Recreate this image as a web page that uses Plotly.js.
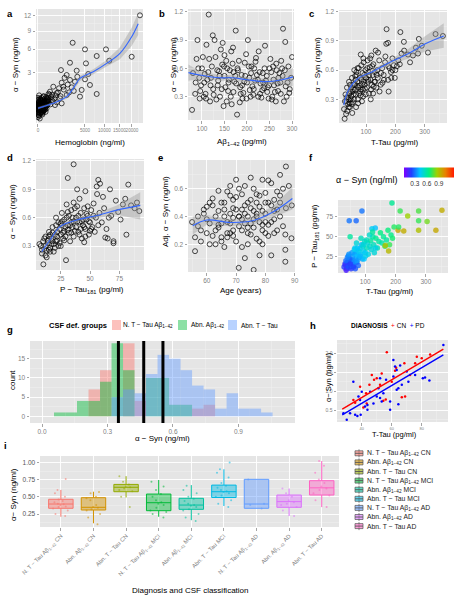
<!DOCTYPE html>
<html><head><meta charset="utf-8">
<script src="https://cdn.plot.ly/plotly-3.0.1.min.js"></script>
<style>html,body{margin:0;padding:0;background:#fff}#chart{width:464px;height:600px}</style>
</head><body><div id="chart"></div>
<script>
// ---------- DATA ----------
// a: Hemoglobin vs alpha-Syn
const hbA = [0,0,0,0,0,0,0,0,0,0, 2,3,5,5,8,10,12,15,18,20, 25,30,35,40,45,50,60,70,80,90,
  100,110,120,130,150,160,180,200,220,250, 5,10,15,25,35,50,65,85,110,140, 3,7,12,22,30,45,60,75,95,125,
  1,4,9,16,28,40,55,170,260,300,
  0,0,0,0,0,0,0,0,0,0, 1,2,4,6,8,11,14,17,21,24, 27,33,38,42,48,52,58,65,72,78, 85,95,105,115,135,145,165,190,210,240,
  23530,19870,10460,11500,7800,7800,6115,5000,5210,2720, 2315,3390,5720,5000,1196,1270,2315,3095,1860,1447,
  2570,530,326,790,4320,3990,1860,1090,425,655, 1270,171,64,400,600,900,1500,700,350,500,
  250,1000,2000,1600,3500,2900,1150,800,450,2200];
const synA = [0.35,0.5,0.2,0.65,0.8,0.42,0.28,0.95,0.15,0.58, 0.3,0.72,0.45,0.6,0.38,0.9,0.25,0.52,0.68,0.4,
  0.33,0.75,0.48,0.62,0.22,0.55,0.85,0.36,0.7,0.5, 0.44,0.9,0.6,0.3,0.78,1.0,0.55,0.65,0.85,0.72,
  0.18,0.27,0.85,0.57,0.31,0.41,0.66,0.52,0.38,0.59, 1.1,0.12,0.47,0.8,0.95,0.26,0.49,1.05,0.63,0.46,
  0.55,0.37,0.61,0.43,0.69,0.76,0.34,0.92,0.82,1.15,
  0.25,0.45,0.6,0.7,0.38,0.55,0.3,0.85,0.48,0.4, 0.2,0.62,0.5,0.34,0.78,0.44,0.58,0.36,0.52,0.66,
  0.42,0.29,0.6,0.5,0.72,0.4,0.3,0.56,0.46,0.62, 0.35,0.55,0.75,0.45,0.5,0.65,0.42,0.8,0.58,0.95,
  12.1,4.93,5.98,4.41,5.03,1.19,1.86,5.98,4.08,7.0, 4.16,3.23,2.88,2.36,3.3,2.05,2.3,2.14,2.78,1.72,
  1.67,1.72,1.35,1.24,1.47,1.02,1.12,0.92,0.83,0.57, 0.65,0.74,1.02,1.0,0.9,1.3,1.5,1.1,0.6,0.75,
  1.2,1.6,1.9,2.5,2.6,1.4,1.05,0.7,1.15,1.3];
const fitAx = [0,64,530,1865,2820,3990,6920,10670,15200,19870,22740];
const fitAy = [0.43,0.50,0.65,1.02,1.6,2.45,3.12,4.08,5.4,8.0,10.4];
const fitAlo = [0.38,0.46,0.60,0.90,1.40,2.20,2.85,3.70,4.6,6.5,8.3];
const fitAhi = [0.48,0.54,0.70,1.15,1.80,2.70,3.40,4.50,6.3,9.6,12.6];

// b: Abeta1-42 vs alpha-Syn
const abB = [80,85,90,95,100,105,110,115,120,125, 130,135,140,145,150,155,160,165,170,175,
  180,185,190,195,200,205,210,215,220,225, 230,235,240,245,250,255,260,265,270,275,
  280,285,290,295,300,78,88,98,108,118, 128,138,148,158,168,178,188,198,208,218,
  228,238,248,258,268,278,288,298,92,102, 112,122,132,142,152,162,172,182,192,202,
  212,222,232,242,252,262,272,282,292,86, 96,106,116,126,136,146,156,166,176,186,
  196,206,216,226,236,246,256,266,276,286, 104,114,124,134,144,154,164,174,184,194,
  204,214,224,234,244,254,264,274,284,294, 94,109,119,139,149,159,169,179,189,199,
  209,219,229,239,249,259,269,279,150,170];
const synB = [0.55,0.33,0.9,0.28,0.6,0.45,0.85,1.17,0.5,0.38, 0.72,0.42,0.3,0.64,0.52,0.25,0.48,0.78,0.35,1.0,
  0.58,0.4,0.28,0.66,0.45,0.5,0.62,0.38,0.71,0.3, 0.44,0.55,0.84,0.35,0.6,0.27,0.42,0.65,0.5,0.33,
  1.02,0.88,0.45,0.38,0.72,0.16,0.7,0.42,0.33,0.25, 0.9,0.57,0.2,0.36,0.65,0.11,0.53,0.75,0.3,0.47,
  0.56,0.39,0.28,0.62,0.44,0.6,0.3,0.5,0.6,0.72, 0.48,0.62,0.27,0.8,0.4,0.58,0.46,0.68,0.34,0.9,
  0.41,0.53,0.29,0.47,0.7,0.35,0.55,0.25,0.62,0.45, 0.36,0.54,0.7,0.32,0.47,0.87,0.6,0.22,0.44,0.33,
  0.52,0.37,0.6,0.78,0.45,0.4,0.3,0.58,0.68,0.41, 0.3,0.56,0.95,0.58,0.38,0.68,0.3,0.52,0.24,0.46,
  0.62,0.32,0.48,0.37,0.52,0.56,0.25,0.45,0.58,0.34, 0.5,0.28,0.42,0.52,0.62,0.45,0.82,0.6,0.42,0.28,
  0.55,0.67,0.33,0.6,0.42,0.48,0.36,0.52,0.74,0.56];
const fitBx = [70,95,140,167,200,240,278,302];
const fitBy = [0.555,0.53,0.50,0.50,0.48,0.46,0.48,0.51];
const fitBlo = [0.47,0.49,0.47,0.47,0.45,0.43,0.43,0.41];
const fitBhi = [0.64,0.57,0.53,0.53,0.51,0.49,0.53,0.61];

// c: T-Tau vs alpha-Syn
const tauC = [25,28,30,32,35,38,40,42,45,48, 50,52,55,58,60,62,65,68,70,72, 75,78,80,82,85,88,90,92,95,98,
  100,103,105,108,110,113,115,118,120,123, 125,128,130,133,135,138,140,145,150,155,
  160,165,170,175,180,185,190,195,200,210, 217,229,243,221,277,280,311,337,362,169,
  27,53,177,161,34,44,56,66,76,86, 96,106,116,126,136,146,156,166,176,186,
  36,46,54,64,74,84,94,104,114,124, 39,41,47,51,57,61,67,71,79,83,
  87,91,99,107,111,117,121,131,141,151, 198,205,215,230,250,260,270,290,175,190,
  33,43,49,59,63,69,73,81,89,93];
const synC = [0.2,0.28,0.35,0.15,0.42,0.25,0.3,0.48,0.22,0.38, 0.33,0.52,0.27,0.45,0.6,0.4,0.35,0.55,0.48,0.3,
  0.62,0.44,0.38,0.76,0.5,0.57,0.33,0.68,0.45,0.6, 0.52,0.42,0.7,0.58,0.36,0.63,0.5,0.75,0.45,0.55,
  0.66,0.48,0.58,0.8,0.42,0.6,0.52,0.7,0.45,0.62, 0.55,0.68,1.02,0.5,0.62,0.58,0.72,0.65,0.6,0.7,
  0.99,0.89,0.76,0.77,0.77,0.92,0.78,0.97,0.95,0.87, 0.1,0.16,0.38,0.5,0.32,0.26,0.4,0.22,0.36,0.28,
  0.41,0.48,0.3,0.43,0.55,0.38,0.47,0.74,0.64,0.52, 0.18,0.45,0.38,0.5,0.42,0.65,0.55,0.62,0.72,0.36,
  0.32,0.22,0.3,0.25,0.35,0.46,0.58,0.62,0.52,0.4, 0.46,0.72,0.35,0.5,0.55,0.4,0.64,0.48,0.78,0.57,
  0.52,0.64,0.66,0.8,0.68,0.75,0.83,0.85,0.88,0.6, 0.28,0.36,0.42,0.3,0.54,0.44,0.26,0.34,0.4,0.48];
const fitCx = [24,41,75,120,188,245,302,365];
const fitCy = [0.24,0.40,0.52,0.58,0.69,0.77,0.87,0.95];
const fitClo = [0.17,0.36,0.50,0.56,0.66,0.72,0.79,0.83];
const fitChi = [0.31,0.44,0.54,0.60,0.72,0.82,0.95,1.08];

// d: P-Tau181 vs alpha-Syn
const ptauD = [8,9,10,11,12,13,14,15,16,17, 18,19,20,21,22,23,24,25,26,27, 28,29,30,31,32,33,34,35,36,37,
  38,39,40,41,42,43,44,45,46,47, 48,49,50,51,52,53,54,55,56,57, 58,60,62,64,66,68,70,72,74,76,
  36,31,39,57,58.5,55.7,82.6,92,81,70, 63,29.5,10.2,6.8,78,80,85,88,90,65,
  12,14,16,18,20,22,24,26,28,30, 32,34,36,38,40,42,44,46,48,50, 13,15,17,19,21,23,25,27,29,31,
  33,35,37,41,43,45,47,49,51,53, 11,16,21,26,31,36,41,46,61,67, 9,12,15,18,22,25,28,34,39,45];
const synD = [0.3,0.22,0.35,0.27,0.4,0.25,0.33,0.45,0.28,0.38, 0.5,0.32,0.42,0.6,0.36,0.55,0.48,0.3,0.65,0.44,
  0.58,0.4,0.74,0.52,0.62,0.35,0.68,0.5,0.56,0.46, 0.6,0.72,0.45,0.55,0.65,0.38,0.52,0.7,0.48,0.58,
  0.62,0.42,0.55,0.68,0.5,0.75,0.45,0.6,0.85,0.52, 0.65,0.55,0.7,0.48,0.6,0.62,0.35,0.78,0.66,0.58,
  1.165,1.02,0.9,1.0,0.96,0.93,0.95,0.67,0.42,0.33, 0.39,0.15,0.106,0.32,0.74,0.8,0.73,0.7,0.76,0.38,
  0.2,0.36,0.24,0.44,0.28,0.4,0.33,0.52,0.46,0.6, 0.44,0.55,0.4,0.5,0.62,0.48,0.58,0.4,0.72,0.46,
  0.18,0.26,0.32,0.24,0.35,0.3,0.42,0.38,0.5,0.66, 0.52,0.6,0.7,0.42,0.56,0.5,0.64,0.56,0.48,0.62,
  0.38,0.42,0.52,0.56,0.47,0.76,0.8,0.88,0.82,0.9, 0.26,0.3,0.4,0.35,0.45,0.54,0.36,0.44,0.56,0.34];
const fitDx = [8.8,16,24.4,38.6,58.5,72.8,92.8];
const fitDy = [0.24,0.366,0.505,0.575,0.63,0.68,0.73];
const fitDlo = [0.20,0.34,0.48,0.55,0.60,0.63,0.58];
const fitDhi = [0.28,0.39,0.53,0.60,0.66,0.73,0.87];

// e: Age vs adjusted alpha-Syn
const ageE = [55,56,57,58,59,60,61,62,63,64, 65,66,67,68,69,70,71,72,73,74, 75,76,77,78,79,80,81,82,83,84,
  85,86,87,88,89,70.9,86.8,86.8,86.8,88.9, 58,60,62,64,66,68,70,72,74,76, 59,61,63,65,67,69,71,73,75,77,
  78,79,80,81,82,83,84,85,86,87, 62,64,66,68,70,72,74,76,78,80, 63,65,67,69,71,73,75,77,79,81,
  66,68,70,72,74,76,78,80,82,84, 67,69,71,73,75,77,79,81,83,85, 56,57,60,61,64,65,68,69,72,73,
  74,75,76,77,78,79,80,82,83,85];
const synE = [0.36,0.15,0.33,0.22,0.42,0.28,0.5,0.53,0.2,0.585, 0.35,0.45,0.25,0.55,0.3,0.665,0.4,0.18,0.48,0.32,
  0.68,0.015,0.42,0.36,0.665,0.28,0.5,0.64,0.38,0.45, 0.55,0.33,0.76,0.62,0.48,0.03,0.074,0.16,0.27,0.243,
  0.3,0.38,0.26,0.44,0.5,0.35,0.22,0.56,0.4,0.6, 0.45,0.2,0.4,0.25,0.58,0.46,0.33,0.62,0.27,0.5,
  0.22,0.44,0.57,0.34,0.12,0.52,0.3,0.4,0.6,0.46, 0.48,0.34,0.18,0.42,0.54,0.3,0.5,0.38,0.55,0.42,
  0.3,0.5,0.36,0.26,0.6,0.42,0.35,0.24,0.3,0.66, 0.4,0.62,0.45,0.38,0.2,0.32,0.12,0.5,0.36,0.58,
  0.28,0.52,0.4,0.1,0.46,0.4,0.34,0.26,0.44,0.7, 0.25,0.4,0.47,0.35,0.32,0.22,0.28,0.39,0.45,0.35,
  0.28,0.52,0.44,0.56,0.47,0.2,0.36,0.48,0.28,0.5];
const fitEx = [55.2,60,68,75.6,82.4,89.2];
const fitEy = [0.334,0.375,0.357,0.369,0.43,0.53];
const fitElo = [0.27,0.34,0.33,0.34,0.39,0.45];
const fitEhi = [0.40,0.41,0.38,0.40,0.47,0.61];

// f: T-Tau vs P-Tau181 coloured by alpha-Syn
const tauF = [30,35,38,40,42,45,48,50,52,55, 58,60,62,65,68,70,72,75,78,80, 82,85,88,90,92,95,98,100,105,108,
  110,115,118,120,125,128,130,135,140,145, 150,155,160,165,170,175,180,185,190,195,
  188,89,47,70,215,240,276,353,304,276, 227,208,276,333,133,50,166,177,210,122,
  33,37,43,47,53,57,63,67,73,77, 44,56,64,74,84,94,104,114,124,134, 36,41,46,51,61,66,71,86,96,101];
const ptauF = [12,15,10,18,14,20,16,12,22,18, 25,20,14,28,22,30,18,26,32,24, 35,28,40,22,38,32,44,30,36,42,
  28,38,45,34,50,40,30,48,36,44, 55,42,50,38,46,58,40,52,48,62,
  92,82,70,70,82,76,82,83,69,70, 57,58,58,58,61,50,39,32,62,60,
  16,8,12,22,10,14,18,10,20,14, 26,30,34,36,26,40,46,52,56,36, 20,24,28,16,12,36,42,48,22,26];
const synF = [0.2,0.15,0.22,0.25,0.18,0.28,0.22,0.25,0.3,0.27, 0.35,0.3,0.22,0.4,0.35,0.38,0.3,0.42,0.45,0.38,
  0.48,0.45,0.4,0.38,0.5,0.46,0.52,0.44,0.55,0.5, 0.48,0.52,0.6,0.5,0.58,0.55,0.5,0.62,0.56,0.6,
  0.65,0.58,0.62,0.7,0.6,0.66,0.72,0.64,0.68,0.7, 0.62,0.3,0.3,0.28,0.72,0.85,0.75,0.95,0.8,0.72,
  0.95,0.98,0.9,0.96,0.42,0.6,0.9,0.92,0.7,0.45, 0.18,0.12,0.24,0.26,0.2,0.3,0.33,0.25,0.36,0.28,
  0.32,0.36,0.45,0.42,0.4,0.5,0.55,0.52,0.6,0.48, 0.28,0.32,0.35,0.2,0.22,0.45,0.5,0.55,0.42,0.46];

// g: histogram counts per CSF group (bins of width binW starting at binStart)
const binStart = 0.055, binW = 0.0527;
const groupNames = ['N. T − Tau Aβ<sub>1−42</sub>', 'Abn. Aβ<sub>1−42</sub>', 'Abn. T − Tau'];
const cntNormal = [0,0,0,7,12,0,19,4,0,0,0,0,2,3,0,0,0,0,0];
const cntAbnAb  = [1,1,4,4,9,19,12,0,10,10,3,3,0,0,0,0,0,0,0];
const cntAbnTau = [0,0,0,0,0,5,7,6,11,16,15,12,8,7,2,6,2,2,1];
const cutoffs = [0.35, 0.466, 0.554];

// h: T-Tau vs alpha-Syn by diagnosis
const tauHcn = [56.7,76.7,75.6,62.9,62.2,68.4,53.3,50,48.2,45.1,42.9,43.3,38.9,34.4,35.6,41.1,66.7,54.4,56,68.9,60,72.2,80,85.6,46.7,52.2];
const synHcn = [2.03,1.91,1.74,1.62,1.54,1.74,1.47,1.34,1.30,1.17,0.95,0.68,1.12,0.77,0.70,0.57,0.84,0.75,0.78,0.86,1.25,1.43,1.87,1.97,1.43,1.17];
const tauHpd = [94.4,85.1,82.2,61.1,62.2,65.6,63.3,66.7,64.4,63.3,61.1,56.2,52.2,51.1,50,52.2,53.3,47.8,43.8,42.2,37.8,38.9,40,34.4,32.2,30,27.8,35.6,37.1,39.3,58.9,58.9,64.4,71.1,75.6,54.4,45.6,80.7,70,43.8];
const synHpd = [2.22,1.28,1.36,1.82,1.65,1.68,1.56,1.17,1.08,1.04,1.39,1.30,1.34,1.08,0.86,0.82,0.73,0.68,0.64,0.60,0.86,0.77,0.99,1.25,0.42,0.25,0.42,0.38,0.35,0.38,0.51,0.73,0.66,1.25,1.43,0.95,0.99,1.34,1.52,0.51];
const fitHx = [27, 94.4];
const fitHcn = [0.53, 2.11];
const fitHpd = [0.38, 1.96];

// i: box plots by diagnosis and CSF class
const boxLabels = ['N. T − Tau Aβ<sub>1−42</sub> CN','Abn. Aβ<sub>1−42</sub> CN','Abn. T − Tau CN',
  'N. T − Tau Aβ<sub>1−42</sub> MCI','Abn. Aβ<sub>1−42</sub> MCI','Abn. T − Tau MCI',
  'N. T − Tau Aβ<sub>1−42</sub> AD','Abn. Aβ<sub>1−42</sub> AD','Abn. T − Tau AD'];
const boxQ1  = [0.333,0.308,0.574,0.298,0.318,0.49,0.333,0.347,0.526];
const boxMed = [0.395,0.347,0.638,0.414,0.38,0.574,0.395,0.43,0.63];
const boxQ3  = [0.464,0.487,0.68,0.54,0.478,0.67,0.754,0.526,0.734];
const boxLo  = [0.21,0.115,0.49,0.21,0.16,0.366,0.333,0.22,0.35];
const boxHi  = [0.60,0.574,0.80,0.744,0.67,0.90,0.754,0.62,1.02];
const boxPts = [
  [0.22,0.25,0.3,0.33,0.35,0.36,0.38,0.39,0.4,0.42,0.44,0.46,0.5,0.55,0.6,0.76],
  [0.1,0.2,0.25,0.3,0.32,0.34,0.35,0.38,0.45,0.48,0.5,0.55,0.57],
  [0.35,0.5,0.58,0.6,0.62,0.64,0.65,0.68,0.72,0.8],
  [0.2,0.25,0.28,0.3,0.34,0.38,0.4,0.42,0.45,0.5,0.54,0.6,0.65,0.72],
  [0.15,0.2,0.25,0.3,0.32,0.35,0.37,0.38,0.4,0.44,0.47,0.5,0.55,0.6,0.66],
  [0.35,0.4,0.45,0.5,0.52,0.55,0.57,0.58,0.6,0.63,0.66,0.7,0.78,0.85,0.9,1.0],
  [0.33,0.38,0.4,0.75],
  [0.22,0.3,0.35,0.38,0.4,0.42,0.45,0.5,0.55,0.62],
  [0.35,0.45,0.52,0.55,0.6,0.62,0.65,0.7,0.75,0.85,0.95,1.02]];

// ---------- STYLE ----------
const F = 'Liberation Sans, Arial, sans-serif';
const W = 464, H = 600;
const PX = v => v / W, PY = v => 1 - v / H;
const hues = ['#F8766D','#D39200','#93AA00','#00BA38','#00C19F','#00B9E3','#619CFF','#DB72FB','#FF61C3'];
function rgba(hex, a){const n=parseInt(hex.slice(1),16);return `rgba(${n>>16},${(n>>8)&255},${n&255},${a})`;}
const sq = arr => arr.map(Math.sqrt);

function mids(tv){
  const m=[];
  m.push(tv[0]-(tv[1]-tv[0])/2);
  for(let i=0;i<tv.length-1;i++) m.push((tv[i]+tv[i+1])/2);
  m.push(tv[tv.length-1]+(tv[tv.length-1]-tv[tv.length-2])/2);
  return m;
}
function axis(dom, rng, tv, tt, anchor, extra){
  const a = {domain:dom, range:rng, anchor:anchor, tickmode:'array', tickvals:tv, ticktext:tt||tv.map(String),
    showgrid:true, gridcolor:'#FFFFFF', gridwidth:0.9, zeroline:false, showline:false,
    ticks:'outside', ticklen:2.5, tickwidth:0.7, tickcolor:'#7F7F7F', tickangle:0,
    tickfont:{family:F,size:6.5,color:'#7F7F7F'}, fixedrange:true,
    minor:{tickmode:'array', tickvals:mids(tv), showgrid:true, gridcolor:'#F2F2F2', gridwidth:0.5, ticks:''}};
  return Object.assign(a, extra||{});
}
function pts(x,y,xa,ya){return {type:'scatter',mode:'markers',x:x,y:y,xaxis:xa,yaxis:ya,hoverinfo:'skip',showlegend:false,
  marker:{symbol:'circle-open',size:5,color:'#000',line:{width:0.7,color:'#000'}}};}
function ribbon(x,lo,hi,xa,ya){return {type:'scatter',mode:'lines',x:x.concat(x.slice().reverse()),y:hi.concat(lo.slice().reverse()),
  fill:'toself',fillcolor:'rgba(150,150,150,0.4)',line:{width:0},xaxis:xa,yaxis:ya,hoverinfo:'skip',showlegend:false};}
function fit(x,y,xa,ya,col,w){return {type:'scatter',mode:'lines',x:x,y:y,xaxis:xa,yaxis:ya,hoverinfo:'skip',showlegend:false,
  line:{color:col||'#3366FF',width:w||1.1,shape:'spline'}};}

const traces = [];
// a
traces.push(pts(sq(hbA),sq(synA),'x','y'));
traces.push(ribbon(sq(fitAx),sq(fitAlo),sq(fitAhi),'x','y'));
traces.push(fit(sq(fitAx),sq(fitAy),'x','y'));
// b
traces.push(pts(abB,synB,'x2','y2'));
traces.push(ribbon(fitBx,fitBlo,fitBhi,'x2','y2'));
traces.push(fit(fitBx,fitBy,'x2','y2'));
// c
traces.push(pts(tauC,synC,'x3','y3'));
traces.push(ribbon(fitCx,fitClo,fitChi,'x3','y3'));
traces.push(fit(fitCx,fitCy,'x3','y3'));
// d
traces.push(pts(ptauD,synD,'x4','y4'));
traces.push(ribbon(fitDx,fitDlo,fitDhi,'x4','y4'));
traces.push(fit(fitDx,fitDy,'x4','y4'));
// e
traces.push(pts(ageE,synE,'x5','y5'));
traces.push(ribbon(fitEx,fitElo,fitEhi,'x5','y5'));
traces.push(fit(fitEx,fitEy,'x5','y5'));
// f
traces.push({type:'scatter',mode:'markers',x:tauF,y:ptauF,xaxis:'x6',yaxis:'y6',hoverinfo:'skip',showlegend:false,
  marker:{size:5.5,opacity:0.8,color:synF,cmin:0.03,cmax:1.28,
    colorscale:[[0,'#7F00FF'],[0.15,'#2040FF'],[0.32,'#00C8FF'],[0.5,'#00F080'],[0.66,'#A0D000'],[0.83,'#E88000'],[1,'#FF1A00']],
    colorbar:{orientation:'h',x:PX(429),xanchor:'center',y:PY(176),yanchor:'middle',len:50,lenmode:'pixels',
      thickness:10,thicknessmode:'pixels',tickvals:[0.3,0.6,0.9],ticktext:['0.3','0.6','0.9'],ticks:'',
      tickfont:{family:F,size:6.5,color:'#333'},outlinewidth:0,xpad:0,ypad:0}}});
// g
const binCenters = cntNormal.map((_,i)=>binStart+binW*(i+0.5));
[cntNormal,cntAbnAb,cntAbnTau].forEach((c,k)=>{
  traces.push({type:'bar',x:binCenters,y:c,width:binW,xaxis:'x7',yaxis:'y7',hoverinfo:'skip',showlegend:false,
    marker:{color:[hues[0],hues[3],hues[6]][k],opacity:0.45,line:{width:0}}});
});
// h
traces.push({type:'scatter',mode:'markers',x:tauHcn,y:synHcn,xaxis:'x8',yaxis:'y8',hoverinfo:'skip',showlegend:false,
  marker:{size:2.5,color:'#FF0000'}});
traces.push({type:'scatter',mode:'markers',x:tauHpd,y:synHpd,xaxis:'x8',yaxis:'y8',hoverinfo:'skip',showlegend:false,
  marker:{size:2.5,color:'#0000FF'}});
traces.push(fit(fitHx,fitHcn,'x8','y8','#FF0000',1.4));
traces.push(fit(fitHx,fitHpd,'x8','y8','#0000FF',1.4));
// i
boxLabels.forEach((lab,i)=>{
  traces.push({type:'box',x:[i],q1:[boxQ1[i]],median:[boxMed[i]],q3:[boxQ3[i]],lowerfence:[boxLo[i]],upperfence:[boxHi[i]],
    xaxis:'x9',yaxis:'y9',width:0.75,whiskerwidth:0,boxpoints:false,fillcolor:rgba(hues[i],0.45),
    line:{color:hues[i],width:1},hoverinfo:'skip',showlegend:false});
});
boxLabels.forEach((lab,i)=>{
  traces.push({type:'box',x:boxPts[i].map(()=>i),y:boxPts[i],xaxis:'x9',yaxis:'y9',width:0.75,boxpoints:'all',jitter:0.8,pointpos:0,
    fillcolor:'rgba(0,0,0,0)',line:{width:0,color:'rgba(0,0,0,0)'},marker:{size:2,color:rgba(hues[i],0.55)},hoverinfo:'skip',showlegend:false});
});

// ---------- LAYOUT ----------
const layout = {
  width:W,height:H,autosize:false,margin:{l:0,r:0,t:0,b:0},paper_bgcolor:'#FFFFFF',plot_bgcolor:'#E5E5E5',
  font:{family:F,color:'#000'},showlegend:false,barmode:'overlay',boxmode:'overlay',
  xaxis: axis([PX(36),PX(143)],[-3,158],sq([0,5000,10000,15000,20000]),['0','5000','10000','15000','20000'],'y',{tickfont:{family:F,size:4.6,color:'#7F7F7F'}}),
  yaxis: axis([PY(123),PY(9)],[0.21,3.67],sq([3,6,9,12]),['3','6','9','12'],'x'),
  xaxis2: axis([PX(188),PX(294)],[69,304.4],[100,150,200,250,300],null,'y2'),
  yaxis2: axis([PY(120),PY(9)],[0.053,1.229],[0.3,0.6,0.9,1.2],null,'x2'),
  xaxis3: axis([PX(339),PX(447)],[7.8,376],[100,200,300],null,'y3'),
  yaxis3: axis([PY(123),PY(10)],[0.057,1.217],[0.3,0.6,0.9,1.2],null,'x3'),
  xaxis4: axis([PX(36),PX(144)],[3.9,96],[25,50,75],null,'y4'),
  yaxis4: axis([PY(270),PY(159)],[0.046,1.221],[0.3,0.6,0.9,1.2],null,'x4'),
  xaxis5: axis([PX(188),PX(295)],[53.6,90.1],[60,70,80,90],null,'y5'),
  yaxis5: axis([PY(272),PY(160)],[0,0.807],[0.2,0.4,0.6],null,'x5'),
  xaxis6: axis([PX(338),PX(448)],[10,373],[100,200,300],null,'y6'),
  yaxis6: axis([PY(273),PY(200)],[4.6,95.9],[25,50,75],null,'x6'),
  xaxis7: axis([PX(30),PX(295)],[-0.055,1.159],[0,0.3,0.6,0.9],['0.0','0.3','0.6','0.9'],'y7'),
  yaxis7: axis([PY(423),PY(341)],[-1.74,19.6],[0,5,10,15],null,'x7'),
  xaxis8: axis([PX(337),PX(448)],[23.5,97.5],[40,60,80],null,'y8',{tickfont:{family:F,size:4,color:'#7F7F7F'}}),
  yaxis8: axis([PY(422),PY(340)],[0.19,2.35],[0.5,1,1.5,2],['0.5','1.0','1.5','2.0'],'x8',{tickfont:{family:F,size:5,color:'#7F7F7F'}}),
  xaxis9: axis([PX(40),PX(339)],[-0.64,8.53],[0,1,2,3,4,5,6,7,8],boxLabels,'y9',
    {tickangle:-45,tickfont:{family:F,size:5.8,color:'#7F7F7F'},minor:{showgrid:false}}),
  yaxis9: axis([PY(527),PY(456)],[0.061,1.093],[0.25,0.5,0.75,1.0],['0.25','0.50','0.75','1.00'],'x9',{tickfont:{family:F,size:6.5,color:'#555'}}),
  shapes:[], annotations:[]
};

// cutoff lines in g
cutoffs.forEach(c=>layout.shapes.push({type:'line',xref:'x7',yref:'y7 domain',x0:c,x1:c,y0:0,y1:1,line:{color:'#000',width:3}}));

function ann(text,x,y,o){layout.annotations.push(Object.assign({text:text,x:PX(x),y:PY(y),xref:'paper',yref:'paper',showarrow:false,
  xanchor:'center',yanchor:'middle',borderpad:0,font:{family:F,size:8,color:'#000'}},o||{}));}
const rot={textangle:-90};
const syn='α − Syn (ng/ml)';
// panel letters
[['a',10,13],['b',162,13],['c',311,13],['d',10,158],['e',160,158],['f',311,157],['g',10,329],['h',313,325],['i',5,445]]
  .forEach(l=>ann('<b>'+l[0]+'</b>',l[1],l[2],{font:{family:F,size:9.5,color:'#000'}}));
// axis titles
ann(syn,15,65,rot); ann('Hemoglobin (ng/ml)',90,142);
ann(syn,173,65,rot); ann('Aβ<sub>1−42</sub> (pg/ml)',242,142);
ann(syn,317,65,rot); ann('T-Tau (pg/ml)',394,142);
ann(syn,13,212,rot); ann('P − Tau<sub>181</sub> (pg/ml)',92,290);
ann('Adj. α − Syn (ng/ml)',166,212,rot); ann('Age (years)',241,290);
ann('P − Tau<sub>181</sub> (pg/ml)',315,236,rot); ann('T-Tau (pg/ml)',389,291);
ann('count',12,380,rot); ann(syn,162,438);
ann('α− Syn (ng/ml)',328,377,{textangle:-90,font:{family:F,size:7.5,color:'#000'}}); ann('T-Tau (pg/ml)',394,434,{font:{family:F,size:7.5,color:'#000'}});
ann('α− Syn (ng/ml)',13,495,rot); ann('Diagnosis and CSF classification',190,590);
// colorbar title f
ann(syn,366,180,{font:{family:F,size:9,color:'#000'}});
// legend g
ann('<b>CSF def. groups</b>',48,325,{xanchor:'left',font:{family:F,size:7.5,color:'#000'}});
const gLeg=[[112,122],[178,190],[228,240]];
gLeg.forEach((p,k)=>{
  layout.shapes.push({type:'rect',xref:'paper',yref:'paper',x0:PX(p[0]),x1:PX(p[0]+9),y0:PY(330),y1:PY(320),
    fillcolor:rgba([hues[0],hues[3],hues[6]][k],0.45),line:{width:0}});
  ann(groupNames[k],p[1],325,{xanchor:'left',font:{family:F,size:6.5,color:'#000'}});
});
// legend h
ann('<b>DIAGNOSIS</b>  <span style="color:#FF0000">+</span> CN  <span style="color:#0000FF">+</span> PD',350,325,
  {xanchor:'left',font:{family:F,size:6.5,color:'#000'}});
// legend i
boxLabels.forEach((lab,k)=>{
  const yc=453.3+9.1*k;
  layout.shapes.push({type:'line',xref:'paper',yref:'paper',x0:PX(359),x1:PX(359),y0:PY(yc-4),y1:PY(yc+4),line:{color:'#555',width:0.7}});
  layout.shapes.push({type:'rect',xref:'paper',yref:'paper',x0:PX(355),x1:PX(363),y0:PY(yc+2.5),y1:PY(yc-2.5),
    fillcolor:rgba(hues[k],0.6),line:{color:'#555',width:0.7}});
  layout.shapes.push({type:'line',xref:'paper',yref:'paper',x0:PX(355),x1:PX(363),y0:PY(yc),y1:PY(yc),line:{color:'#555',width:0.9}});
  ann(lab,366,yc,{xanchor:'left',font:{family:F,size:6.8,color:'#222'}});
});

Plotly.newPlot('chart',traces,layout,{staticPlot:true,displayModeBar:false});
</script></body></html>
